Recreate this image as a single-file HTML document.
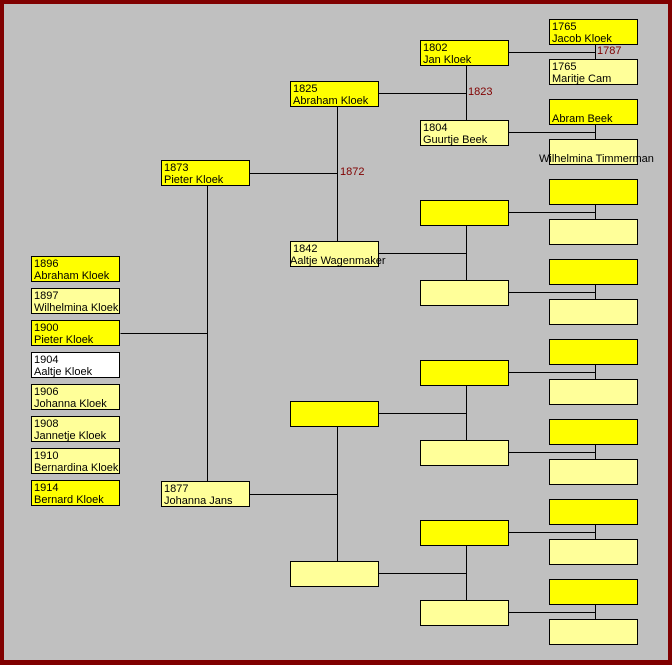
<!DOCTYPE html>
<html><head><meta charset="utf-8"><style>
html,body{margin:0;padding:0}
#f{position:relative;width:672px;height:665px;background:#800000;overflow:hidden}
#c{position:absolute;left:4px;top:4px;width:664px;height:656px;background:#c0c0c0}
svg{position:absolute;left:0;top:0}
.b{position:absolute;width:89px;height:26px;box-sizing:border-box;border:1px solid #000;font:11px/12px "Liberation Sans",Arial,sans-serif;color:#000;white-space:nowrap;padding:1px 0 0 2px}
.y{background:#ffff00}.l{background:#ffff99}.w{background:#fff}
.t{position:absolute;font:11px "Liberation Sans",Arial,sans-serif;color:#800000}
</style></head><body><div id="f"><div id="c"></div>
<svg width="672" height="665" stroke="#000" stroke-width="1" shape-rendering="crispEdges">
<g id="g"></g>
<path d="M120.5 333.5H207.5M207.5 186V481M249 173.5H337.5M337.5 107V241M249 494.5H337.5M337.5 427V561
M379 93.5H466.5M466.5 66V120M379 253.5H466.5M466.5 226V280M379 413.5H466.5M466.5 386V440M379 573.5H466.5M466.5 546V600
M508 52.5H595.5M595.5 45V59M508 132.5H595.5M595.5 125V139M508 212.5H595.5M595.5 205V219M508 292.5H595.5M595.5 285V299
M508 372.5H595.5M595.5 365V379M508 452.5H595.5M595.5 445V459M508 532.5H595.5M595.5 525V539M508 612.5H595.5M595.5 605V619" fill="none"/>
</svg>
<div class="b y" style="left:31px;top:256px">1896<br>Abraham Kloek</div>
<div class="b l" style="left:31px;top:288px">1897<br>Wilhelmina Kloek</div>
<div class="b y" style="left:31px;top:320px">1900<br>Pieter Kloek</div>
<div class="b w" style="left:31px;top:352px">1904<br>Aaltje Kloek</div>
<div class="b l" style="left:31px;top:384px">1906<br>Johanna Kloek</div>
<div class="b l" style="left:31px;top:416px">1908<br>Jannetje Kloek</div>
<div class="b l" style="left:31px;top:448px">1910<br>Bernardina Kloek</div>
<div class="b y" style="left:31px;top:480px">1914<br>Bernard Kloek</div>
<div class="b y" style="left:161px;top:160px">1873<br>Pieter Kloek</div>
<div class="b l" style="left:161px;top:481px">1877<br>Johanna Jans</div>
<div class="b y" style="left:290px;top:81px">1825<br>Abraham Kloek</div>
<div class="b l" style="left:290px;top:241px">1842<br><span style="margin-left:-3px">Aaltje Wagenmaker</span></div>
<div class="b y" style="left:290px;top:401px"></div>
<div class="b l" style="left:290px;top:561px"></div>
<div class="b y" style="left:420px;top:40px">1802<br>Jan Kloek</div>
<div class="b l" style="left:420px;top:120px">1804<br>Guurtje Beek</div>
<div class="b y" style="left:420px;top:200px"></div>
<div class="b l" style="left:420px;top:280px"></div>
<div class="b y" style="left:420px;top:360px"></div>
<div class="b l" style="left:420px;top:440px"></div>
<div class="b y" style="left:420px;top:520px"></div>
<div class="b l" style="left:420px;top:600px"></div>
<div class="b y" style="left:549px;top:19px">1765<br>Jacob Kloek</div>
<div class="b l" style="left:549px;top:59px">1765<br>Maritje Cam</div>
<div class="b y" style="left:549px;top:99px"><br>Abram Beek</div>
<div class="b l" style="left:549px;top:139px;overflow:visible"><br><span style="margin-left:-13px">Wilhelmina Timmerman</span></div>
<div class="b y" style="left:549px;top:179px"></div>
<div class="b l" style="left:549px;top:219px"></div>
<div class="b y" style="left:549px;top:259px"></div>
<div class="b l" style="left:549px;top:299px"></div>
<div class="b y" style="left:549px;top:339px"></div>
<div class="b l" style="left:549px;top:379px"></div>
<div class="b y" style="left:549px;top:419px"></div>
<div class="b l" style="left:549px;top:459px"></div>
<div class="b y" style="left:549px;top:499px"></div>
<div class="b l" style="left:549px;top:539px"></div>
<div class="b y" style="left:549px;top:579px"></div>
<div class="b l" style="left:549px;top:619px"></div>
<div class="t" style="left:597px;top:45px">1787</div>
<div class="t" style="left:468px;top:86px">1823</div>
<div class="t" style="left:340px;top:166px">1872</div>
</div></body></html>
